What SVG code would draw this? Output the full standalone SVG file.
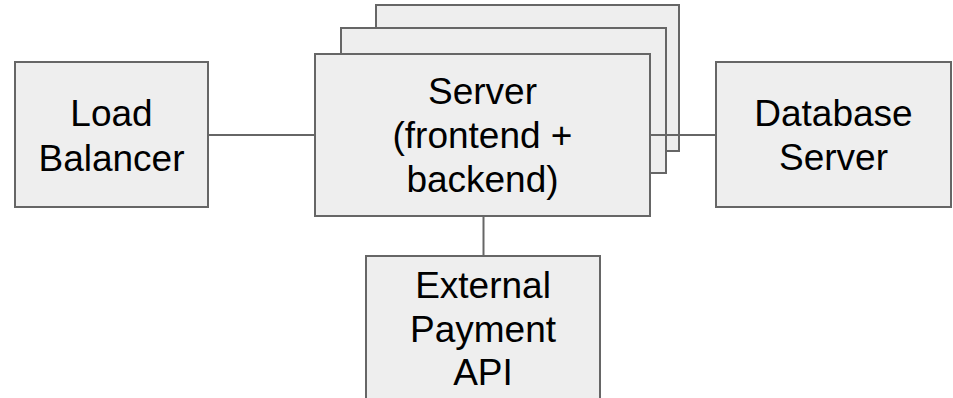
<svg xmlns="http://www.w3.org/2000/svg" width="953" height="398" viewBox="0 0 953 398">
  <style>
    .box { fill: #eeeeee; stroke: #666666; stroke-width: 2; }
    .link { stroke: #666666; stroke-width: 2; fill: none; }
    .label { font-family: "Liberation Sans", Arial, sans-serif; font-size: 37px; fill: #000000; text-anchor: middle; }
  </style>
  <rect width="953" height="398" fill="#ffffff"/>

  <g id="load-balancer">
    <rect class="box" x="15" y="62" width="193" height="145"/>
    <text class="label" x="111.5" y="126">Load</text>
    <text class="label" x="111.5" y="170.5">Balancer</text>
  </g>

  <g id="server">
    <rect class="box" x="376" y="5" width="303" height="146"/>
    <rect class="box" x="341" y="28" width="325" height="145"/>
    <rect class="box" x="315" y="54" width="335" height="162"/>
    <text class="label" x="482.5" y="104">Server</text>
    <text class="label" x="482.5" y="148">(frontend +</text>
    <text class="label" x="482.5" y="192">backend)</text>
  </g>

  <g id="database-server">
    <rect class="box" x="716" y="62" width="235" height="145"/>
    <text class="label" x="833.5" y="126">Database</text>
    <text class="label" x="833.5" y="170">Server</text>
  </g>

  <g id="payment-api">
    <rect class="box" x="366" y="256" width="234" height="160"/>
    <text class="label" x="483" y="298">External</text>
    <text class="label" x="483" y="341.5">Payment</text>
    <text class="label" x="483" y="385">API</text>
  </g>

  <g id="connectors">
    <line class="link" x1="208" y1="135" x2="315" y2="135"/>
    <line class="link" x1="650" y1="135" x2="716" y2="135"/>
    <line class="link" x1="483.5" y1="216" x2="483.5" y2="256"/>
  </g>
</svg>
